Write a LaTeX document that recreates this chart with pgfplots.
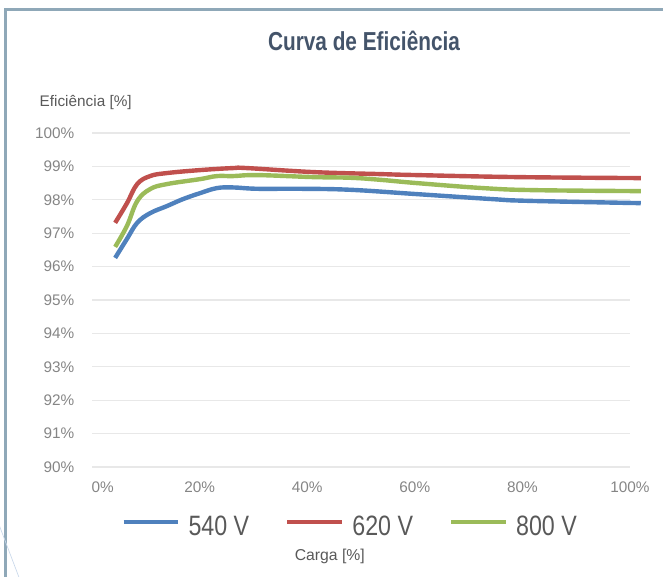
\documentclass[border=0pt]{standalone}
\usepackage{fontspec}
\setmainfont{Liberation Sans}
\newfontfamily\titlefont[FakeStretch=0.8]{Liberation Sans}
\newfontfamily\legfont[FakeStretch=0.83]{Liberation Sans}
\usepackage{pgfplots}
\usepackage{pgfplotstable}
\pgfplotsset{compat=1.18}
\definecolor{cblue}{HTML}{4F81BD}
\definecolor{cred}{HTML}{C0504D}
\definecolor{cgreen}{HTML}{9BBB59}
\definecolor{ctitle}{HTML}{44546A}
\definecolor{ctext}{HTML}{595959}
\definecolor{ctick}{HTML}{858585}
\definecolor{cgrid}{HTML}{E8E8E8}
\definecolor{cborder}{HTML}{8FA8B8}
\definecolor{cdiag}{HTML}{C9D8EA}

\pgfplotstableread{
x y
4.3 96.26
6.5 96.83
8.4 97.31
10.8 97.60
13.9 97.81
16.9 98.02
20.1 98.20
23.2 98.35
26.2 98.37
30.7 98.33
38.7 98.33
48.0 98.30
60.4 98.17
74.5 98.02
80.9 97.97
102 97.90
}\dataA
\pgfplotstableread{
x y
4.3 97.31
6.5 97.90
8.4 98.47
10.8 98.71
13.9 98.80
20.1 98.89
26.2 98.95
28.8 98.95
41.1 98.83
53.5 98.77
60.4 98.74
79.0 98.68
102 98.65
}\dataB
\pgfplotstableread{
x y
4.3 96.59
6.5 97.22
8.4 97.96
10.8 98.32
13.9 98.47
20.1 98.62
23.2 98.71
26.2 98.71
30.7 98.74
41.1 98.68
48.0 98.66
53.5 98.60
60.4 98.50
72.7 98.35
82.0 98.29
102 98.26
}\dataC

\begin{document}
\begin{tikzpicture}
\useasboundingbox (0pt,0pt) rectangle (497.25pt,-432.75pt);
\begin{scope}[x=0.75pt,y=-0.75pt]
\draw[cborder, line width=1.9pt] (5.5,700) -- (5.5,9.5) -- (700,9.5);
\draw[cdiag, line width=0.5pt] (-2,522) -- (20,580);
\end{scope}
\begin{axis}[
  at={(69pt,-350.25pt)}, anchor=south west,
  scale only axis, width=403.5pt, height=250.5pt,
  xmin=0, xmax=100, ymin=90, ymax=100,
  clip=false,
  axis line style={draw=none},
  major tick style={draw=none},
  minor tick style={draw=none},
  ymajorgrids,
  grid style={cgrid, line width=0.8pt},
  xtick={0,20,40,60,80,100},
  xticklabels={\hspace{16pt}0\%,20\%,40\%,60\%,80\%,100\%},
  ytick={90,91,92,93,94,95,96,97,98,99,100},
  yticklabels={90\%,91\%,92\%,93\%,94\%,95\%,96\%,97\%,98\%,99\%,100\%},
  tick label style={font=\fontsize{11.5}{13}\selectfont, text=ctick},
  xticklabel style={yshift=-7.5pt},
  yticklabel style={xshift=-9.7pt},
  title={\titlefont\bfseries Curva de Efici\^encia},
  title style={at={(rel axis cs:0.5056,1.252)}, anchor=center, font=\fontsize{19.5}{22}\selectfont, text=ctitle},
  xlabel={Carga [\%]},
  ylabel={Efici\^encia [\%]},
  every axis x label/.style={at={(rel axis cs:0.442,-0.269)}, anchor=center, font=\fontsize{11.8}{14}\selectfont, text=ctext},
  every axis y label/.style={at={(rel axis cs:-0.106,1.09)}, anchor=west, font=\fontsize{11.5}{14}\selectfont, text=ctext},
  legend columns=3,
  legend style={draw=none, fill=none, at={(rel axis cs:0.478,-0.178)}, anchor=center,
    font=\legfont\fontsize{21}{24}\selectfont, text=ctext,
    nodes={inner sep=0pt},
    /tikz/every odd column/.append style={column sep=6pt},
    /tikz/every even column/.append style={column sep=27pt}},
  legend image code/.code={\draw[#1] (0pt,0.35em) -- (41pt,0.35em);},
]
\addplot[cblue, line width=3.3pt, smooth, tension=0.65] table[x=x,y=y]{\dataA};
\addlegendentry{540 V}
\addplot[cred, line width=3.3pt, smooth, tension=0.65] table[x=x,y=y]{\dataB};
\addlegendentry{620 V}
\addplot[cgreen, line width=3.3pt, smooth, tension=0.65] table[x=x,y=y]{\dataC};
\addlegendentry{800 V}
\end{axis}
\end{tikzpicture}
\end{document}
